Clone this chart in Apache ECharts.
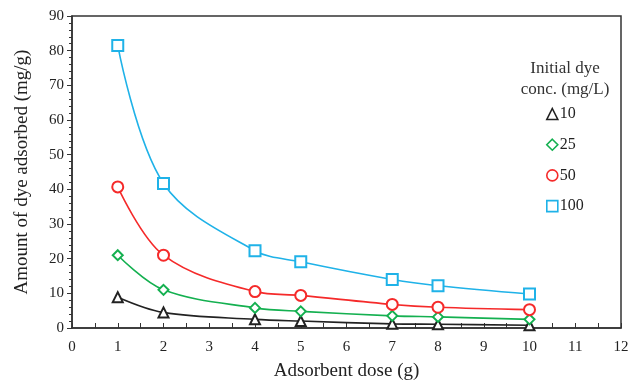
<!DOCTYPE html>
<html>
<head>
<meta charset="utf-8">
<script src="https://cdn.jsdelivr.net/npm/echarts@6/dist/echarts.min.js"></script>
<style>
  html, body { margin: 0; padding: 0; background: #fff; }
  #chart { width: 638px; height: 386px; }
</style>
</head>
<body>
<div id="chart"></div>
<script>
const FONT = "Liberation Serif";
const TEXT = "#222";

const doses = [1, 2, 4, 5, 7, 8, 10];
const conc10 = [8.9, 4.5, 2.5, 2.0, 1.2, 1.1, 0.8];
const conc25 = [21.0, 11.0, 5.8, 4.8, 3.5, 3.2, 2.5];
const conc50 = [40.7, 21.0, 10.5, 9.4, 6.8, 6.0, 5.3];
const conc100 = [81.5, 41.7, 22.3, 19.1, 14.0, 12.2, 9.8];

const SERIES = [
  { name: "10", values: conc10, color: "#222222", symbol: "triangle", size: 10 },
  { name: "25", values: conc25, color: "#14b050", symbol: "diamond", size: 10 },
  { name: "50", values: conc50, color: "#f52a2a", symbol: "circle", size: 11 },
  { name: "100", values: conc100, color: "#1fb2e8", symbol: "rect", size: 11 },
];

function axisText(size = 15) {
  return { color: TEXT, fontFamily: FONT, fontSize: size };
}

const chart = echarts.init(document.getElementById("chart"), null, { renderer: "canvas" });

chart.setOption({
  animation: false,
  backgroundColor: "#fff",
  title: {
    text: "Initial dye\nconc. (mg/L)",
    left: 560,
    top: 53,
    textAlign: "center",
    textStyle: { ...axisText(17), fontWeight: "normal", lineHeight: 21, color: "#333" },
  },
  legend: {
    orient: "vertical",
    left: 541,
    top: 101,
    itemWidth: 11,
    itemHeight: 11,
    itemGap: 14.7,
    textStyle: { ...axisText(16), padding: [0, 0, 0, -3] },
    data: SERIES.map((s) => ({
      name: s.name,
      icon: s.symbol,
      itemStyle: { color: "#fff", borderColor: s.color, borderWidth: 1.6 },
    })),
  },
  grid: { left: 72, right: 17, top: 16, bottom: 57, show: true, borderColor: "#333", borderWidth: 1.5 },
  xAxis: {
    type: "value",
    min: 0,
    max: 12,
    interval: 1,
    name: "Adsorbent dose (g)",
    nameLocation: "middle",
    nameGap: 34,
    nameTextStyle: axisText(19),
    axisLine: { lineStyle: { color: "#333", width: 1.5 } },
    axisTick: { inside: true, length: 5, lineStyle: { color: "#333" } },
    minorTick: { show: true, splitNumber: 2, length: 5, lineStyle: { color: "#333" } },
    axisLabel: { ...axisText(), margin: 12 },
    splitLine: { show: false },
  },
  yAxis: {
    type: "value",
    min: 0,
    max: 90,
    interval: 10,
    name: "Amount of dye adsorbed (mg/g)",
    nameLocation: "middle",
    nameGap: 40,
    nameTextStyle: axisText(19),
    axisLine: { show: true, lineStyle: { color: "#333", width: 1.5 } },
    axisTick: { show: true, length: 5, lineStyle: { color: "#333" } },
    minorTick: { show: true, splitNumber: 5, length: 3, lineStyle: { color: "#333" } },
    axisLabel: { ...axisText(), margin: 8 },
    splitLine: { show: false },
  },
  series: SERIES.map((s) => ({
    name: s.name,
    type: "line",
    data: doses.map((d, i) => [d, s.values[i]]),
    smooth: 0.35,
    symbol: "empty" + s.symbol.charAt(0).toUpperCase() + s.symbol.slice(1),
    symbolSize: s.size,
    lineStyle: { color: s.color, width: 1.6 },
    itemStyle: { color: s.color, borderColor: s.color, borderWidth: 1.6 },
  })),
});
</script>
</body>
</html>
